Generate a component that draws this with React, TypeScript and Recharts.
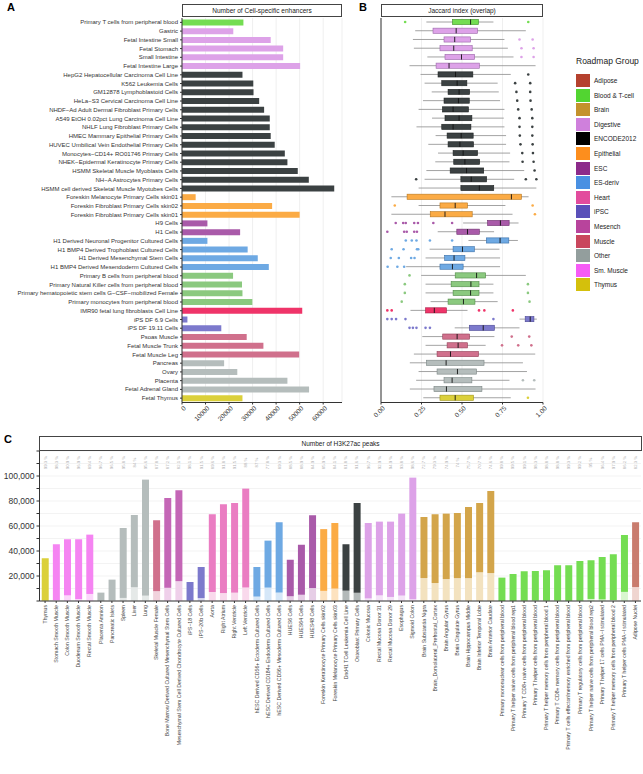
import React from 'react';
import { BarChart, Bar, ComposedChart, XAxis, YAxis, CartesianGrid, Cell } from 'recharts';

const FONT = "'Liberation Sans', Arial, Helvetica, sans-serif";

// ---------- panels A + B : cell lines ----------
const cellLines = [
  'Primary T cells from peripheral blood', 'Gastric', 'Fetal Intestine Small', 'Fetal Stomach', 'Small Intestine',
  'Fetal Intestine Large', 'HepG2 Hepatocellular Carcinoma Cell Line', 'K562 Leukemia Cells', 'GM12878 Lymphoblastoid Cells',
  'HeLa−S3 Cervical Carcinoma Cell Line', 'NHDF−Ad Adult Dermal Fibroblast Primary Cells', 'A549 EtOH 0.02pct Lung Carcinoma Cell Line',
  'NHLF Lung Fibroblast Primary Cells', 'HMEC Mammary Epithelial Primary Cells', 'HUVEC Umbilical Vein Endothelial Primary Cells',
  'Monocytes−CD14+ RO01746 Primary Cells', 'NHEK−Epidermal Keratinocyte Primary Cells', 'HSMM Skeletal Muscle Myoblasts Cells',
  'NH−A Astrocytes Primary Cells', 'HSMM cell derived Skeletal Muscle Myotubes Cells', 'Foreskin Melanocyte Primary Cells skin01',
  'Foreskin Fibroblast Primary Cells skin02', 'Foreskin Fibroblast Primary Cells skin01', 'H9 Cells', 'H1 Cells',
  'H1 Derived Neuronal Progenitor Cultured Cells', 'H1 BMP4 Derived Trophoblast Cultured Cells', 'H1 Derived Mesenchymal Stem Cells',
  'H1 BMP4 Derived Mesendoderm Cultured Cells', 'Primary B cells from peripheral blood', 'Primary Natural Killer cells from peripheral blood',
  'Primary hematopoietic stem cells G−CSF−mobilized Female', 'Primary monocytes from peripheral blood', 'IMR90 fetal lung fibroblasts Cell Line',
  'iPS DF 6.9 Cells', 'iPS DF 19.11 Cells', 'Psoas Muscle', 'Fetal Muscle Trunk', 'Fetal Muscle Leg', 'Pancreas', 'Ovary', 'Placenta',
  'Fetal Adrenal Gland', 'Fetal Thymus',
];
const cellGroups = [
  'bld', 'dig', 'dig', 'dig', 'dig', 'dig',
  'enc', 'enc', 'enc', 'enc', 'enc', 'enc', 'enc', 'enc', 'enc', 'enc', 'enc', 'enc', 'enc', 'enc',
  'epi', 'epi', 'epi', 'esc', 'esc', 'esd', 'esd', 'esd', 'esd',
  'hsc', 'hsc', 'hsc', 'hsc', 'imr', 'ips', 'ips', 'mus', 'mus', 'mus', 'oth', 'oth', 'oth', 'oth', 'thy',
];
const enhancerCounts = [
  26100, 21800, 37700, 43000, 43000, 50200, 25700, 30300, 30400, 32800, 34900, 37300, 37300, 37700, 39400,
  43700, 44800, 49200, 53900, 64700, 5800, 38300, 50000, 10800, 24700, 10800, 27900, 32200, 36900, 21700,
  25500, 25700, 29900, 51100, 2300, 16700, 27500, 34600, 49800, 17900, 23500, 44800, 54000, 25700,
];
const jaccardLow = [
  0.28, 0.211, 0.197, 0.203, 0.286, 0.176, 0.244, 0.269, 0.313, 0.259, 0.232, 0.315, 0.219, 0.337, 0.292,
  0.352, 0.335, 0.28, 0.269, 0.232, 0.064, 0.232, 0.064, 0.507, 0.35, 0.54, 0.3, 0.275, 0.155, 0.248,
  0.275, 0.275, 0.306, 0.182, 0.855, 0.455, 0.255, 0.275, 0.203, 0.178, 0.232, 0.217, 0.178, 0.261,
];
const jaccardQ1 = [
  0.441, 0.321, 0.389, 0.364, 0.395, 0.34, 0.352, 0.375, 0.414, 0.389, 0.379, 0.395, 0.375, 0.408, 0.414,
  0.445, 0.449, 0.427, 0.493, 0.493, 0.161, 0.364, 0.304, 0.658, 0.468, 0.65, 0.445, 0.393, 0.364, 0.458,
  0.433, 0.445, 0.414, 0.275, 0.89, 0.545, 0.381, 0.408, 0.346, 0.28, 0.346, 0.389, 0.327, 0.364,
];
const jaccardMedian = [
  0.553, 0.464, 0.455, 0.449, 0.497, 0.42, 0.46, 0.47, 0.482, 0.478, 0.445, 0.482, 0.445, 0.495, 0.487,
  0.507, 0.518, 0.528, 0.557, 0.607, 0.805, 0.458, 0.395, 0.737, 0.534, 0.735, 0.503, 0.451, 0.441, 0.59,
  0.555, 0.553, 0.509, 0.329, 0.921, 0.631, 0.47, 0.476, 0.429, 0.402, 0.472, 0.439, 0.404, 0.458,
];
const jaccardQ3 = [
  0.602, 0.596, 0.553, 0.563, 0.578, 0.607, 0.567, 0.53, 0.547, 0.545, 0.54, 0.561, 0.555, 0.569, 0.571,
  0.596, 0.609, 0.634, 0.652, 0.696, 0.867, 0.534, 0.563, 0.791, 0.607, 0.789, 0.576, 0.518, 0.507, 0.646,
  0.605, 0.605, 0.58, 0.404, 0.944, 0.7, 0.547, 0.534, 0.602, 0.636, 0.59, 0.561, 0.623, 0.571,
];
const jaccardHigh = [
  0.694, 0.894, 0.762, 0.783, 0.818, 0.954, 0.801, 0.72, 0.727, 0.735, 0.762, 0.758, 0.762, 0.772, 0.772,
  0.797, 0.793, 0.884, 0.822, 0.959, 0.911, 0.768, 0.812, 0.849, 0.698, 0.845, 0.731, 0.735, 0.735, 0.894,
  0.694, 0.694, 0.72, 0.534, 0.962, 0.855, 0.7, 0.646, 0.952, 0.876, 0.901, 0.793, 0.954, 0.801,
];
const jaccardOutliers = [
  [0.149, 0.909], [], [0.855, 0.936], [0.867, 0.942], [0.867, 0.942], [], [0.909], [0.828, 0.921], [0.836, 0.921], [0.841, 0.923],
  [0.847, 0.93], [0.855, 0.934], [0.855, 0.934], [0.857, 0.934], [0.861, 0.936], [0.872, 0.938], [0.874, 0.942], [0.948],
  [0.217, 0.894, 0.959], [], [], [0.085, 0.936], [0.95], [0.091, 0.137, 0.153, 0.205, 0.228, 0.323, 0.439],
  [0.039, 0.143, 0.159, 0.205, 0.222], [0.153, 0.19, 0.219, 0.302, 0.439], [0.066, 0.139, 0.222, 0.23], [0.06, 0.11, 0.186, 0.207],
  [0.041, 0.101, 0.143], [0.176], [0.147, 0.907], [0.147, 0.907], [0.128, 0.917], [0.039, 0.066, 0.605, 0.638, 0.814],
  [0.039, 0.066, 0.093, 0.151, 0.694], [0.176, 0.197, 0.219, 0.275, 0.302], [0.807, 0.915], [0.747, 0.847, 0.928],
  [], [], [], [0.876, 0.946], [], [0.907],
];

// ---------- panel C : tissues ----------
const tissues = [
  'Thymus', 'Stomach Smooth Muscle', 'Colon Smooth Muscle', 'Duodenum Smooth Muscle', 'Rectal Smooth Muscle', 'Placenta Amnion',
  'Pancreatic Islets', 'Spleen', 'Liver', 'Lung', 'Skeletal Muscle Female', 'Bone Marrow Derived Cultured Mesenchymal Stem Cells',
  'Mesenchymal Stem Cell Derived Chondrocyte Cultured Cells', 'iPS−18 Cells', 'iPS−20b Cells', 'Aorta', 'Right Atrium',
  'Right Ventricle', 'Left Ventricle', 'hESC Derived CD56+ Ectoderm Cultured Cells', 'hESC Derived CD184+ Endoderm Cultured Cells',
  'hESC Derived CD56+ Mesoderm Cultured Cells', 'HUES6 Cells', 'HUES64 Cells', 'HUES48 Cells',
  'Foreskin Keratinocyte Primary Cells skin02', 'Foreskin Melanocyte Primary Cells skin03', 'Dnd41 TCell Leukemia Cell Line',
  'Osteoblast Primary Cells', 'Colonic Mucosa', 'Rectal Mucosa Donor 31', 'Rectal Mucosa Donor 29', 'Esophagus', 'Sigmoid Colon',
  'Brain Substantia Nigra', 'Brain_Dorsolateral_Prefrontal_Cortex', 'Brain Angular Gyrus', 'Brain Cingulate Gyrus',
  'Brain Hippocampus Middle', 'Brain Inferior Temporal Lobe', 'Brain Anterior Caudate',
  'Primary mononuclear cells from peripheral blood', 'Primary T helper naive cells from peripheral blood rep1',
  'Primary T CD8+ naive cells from peripheral blood', 'Primary T helper cells from peripheral blood',
  'Primary T helper memory cells from peripheral blood 1', 'Primary T CD8+ memory cells from peripheral blood',
  'Primary T cells effector/memory enriched from peripheral blood', 'Primary T regulatory cells from peripheral blood',
  'Primary T helper naive cells from peripheral blood rep2', 'Primary T helper 17 cells PMA−I stimulated',
  'Primary T helper memory cells from peripheral blood 2', 'Primary T helper cells PMA−I stimulated', 'Adipose Nuclei',
];
const tissueGroups = [
  'thy', 'sm', 'sm', 'sm', 'sm', 'oth', 'oth', 'oth', 'oth', 'oth', 'mus', 'mes', 'mes', 'ips', 'ips',
  'hrt', 'hrt', 'hrt', 'hrt', 'esd', 'esd', 'esd', 'esc', 'esc', 'esc', 'epi', 'epi', 'enc', 'enc',
  'dig', 'dig', 'dig', 'dig', 'dig', 'brn', 'brn', 'brn', 'brn', 'brn', 'brn', 'brn',
  'bld', 'bld', 'bld', 'bld', 'bld', 'bld', 'bld', 'bld', 'bld', 'bld', 'bld', 'bld', 'adi',
];
const peakCounts = [
  34200, 45400, 49400, 49400, 53100, 6700, 17100, 58400, 68800, 97100, 64600, 82400, 88600, 15200, 27200,
  69400, 77400, 78400, 89900, 27200, 48300, 63000, 33000, 45000, 68600, 57500, 62400, 45400, 78400,
  62400, 63500, 63500, 69900, 98700, 67200, 69400, 69900, 70400, 75200, 78400, 88000,
  18700, 21600, 23800, 24000, 24600, 28600, 28600, 32000, 32600, 35200, 37400, 52800, 63000,
];
const peakPct = [
  99.3, 98.3, 90.9, 96.9, 89.4, 96.7, 96.5, 95.8, 84, 95.6, 87.8, 87.2, 82.1, 98.1, 91.5,
  89.6, 91.8, 91.5, 88, 87, 77.8, 89.3, 88.5, 88.9, 84.9, 85.9, 84.1, 81.8, 91.6,
  96.7, 92.9, 94.9, 93.8, 98.6, 72.7, 79.3, 74.9, 74, 75.7, 70.7, 74.6,
  99.8, 99.5, 99.1, 98.3, 98.8, 98.8, 99.3, 99.2, 95, 96.4, 97.9, 86.2, 82.3,
];

// ---------- legend ----------
const legendNames = ['Adipose', 'Blood & T-cell', 'Brain', 'Digestive', 'ENCODE2012', 'Epithelial', 'ESC', 'ES-deriv',
  'Heart', 'iPSC', 'Mesench', 'Muscle', 'Other', 'Sm. Muscle', 'Thymus'];
const legendColors = ['#b5412e', '#52d531', '#c4922c', '#cf80dc', '#000000', '#fd8e1d', '#8c2a8a', '#4990e2',
  '#e24c9d', '#5a50b9', '#b8449c', '#c9475d', '#939e9d', '#f65cf6', '#d4c00c'];

const GROUPS: Record<string, { fill: string; line: string; light: string }> = {
  bld: { fill: '#74dd52', line: '#3f8f2a', light: '#d9f6cf' },
  dig: { fill: '#dda2e8', line: '#9a66a8', light: '#f5e3f8' },
  enc: { fill: '#3b4142', line: '#1e2222', light: '#b3b9b9' },
  epi: { fill: '#fbab45', line: '#b8761c', light: '#fde2bf' },
  esc: { fill: '#a95aa9', line: '#6e2f6e', light: '#e6cde6' },
  esd: { fill: '#6ea9e3', line: '#3a6fa8', light: '#d5e7f8' },
  hsc: { fill: '#8bc97f', line: '#4f8a45', light: '#dcefd8' },
  imr: { fill: '#ef3469', line: '#a81c44', light: '#fbd0dc' },
  ips: { fill: '#7c79cc', line: '#4a4794', light: '#d9d8f1' },
  mus: { fill: '#d0708c', line: '#944058', light: '#f1d2dc' },
  oth: { fill: '#b5bdbc', line: '#7b8584', light: '#e5e9e8' },
  thy: { fill: '#dbd03a', line: '#a09618', light: '#f6f2c8' },
  sm: { fill: '#f584f2', line: '#b04cae', light: '#fcd8fb' },
  mes: { fill: '#c466b6', line: '#8a3a80', light: '#efd0ea' },
  hrt: { fill: '#ea7dc2', line: '#a84a86', light: '#f9d9ec' },
  brn: { fill: '#d3a54a', line: '#93702a', light: '#f3e2bf' },
  adi: { fill: '#c97c6e', line: '#8c4a3e', light: '#efd5d0' },
};

const rowsA = cellLines.map((name, i) => ({ name, value: enhancerCounts[i], group: cellGroups[i] }));
const rowsB = cellLines.map((name, i) => ({
  name, group: cellGroups[i], lo: jaccardLow[i], q1: jaccardQ1[i], med: jaccardMedian[i],
  q3: jaccardQ3[i], hi: jaccardHigh[i], out: jaccardOutliers[i],
}));
const rowsC = tissues.map((name, i) => ({
  name, group: tissueGroups[i],
  shared: peakCounts[i] * (1 - peakPct[i] / 100),
  specific: peakCounts[i] * (peakPct[i] / 100),
}));

// plot height of panel C, used to put the % row at the top of the panel
const C_PLOT_H = 150;

const CellTick = ({ x, y, payload }: any) => (
  <text x={x} y={y} dy="0.35em" textAnchor="end" fontSize={6} fill="#333">{payload.value}</text>
);

const RotTick = ({ x, y, payload, digits }: any) => (
  <g transform={`translate(${x + 1},${y})`}>
    <text transform="rotate(-45)" textAnchor="end" dy="0.71em" fontSize={6.5} fill="#333">
      {digits ? Number(payload.value).toFixed(digits) : payload.value}
    </text>
  </g>
);

// tissue name under the bar + share of specific peaks at the top of the panel
const TissueTick = ({ x, y, payload }: any) => {
  const i = tissues.indexOf(payload.value);
  const top = y - 4 - C_PLOT_H;
  return (
    <g>
      <text transform={`translate(${x},${y}) rotate(-90)`} textAnchor="end" dy="0.35em" fontSize={5.2} fill="#444">
        {payload.value}
      </text>
      <text transform={`translate(${x},${top + 11.5}) rotate(-90)`} textAnchor="middle" dy="0.35em" fontSize={4.3} fill="#b0b0b0">
        {`${peakPct[i]} %`}
      </text>
    </g>
  );
};

const PeakTick = ({ x, y, payload }: any) => {
  const v = payload.value;
  const show = v % 20000 === 0 && v > 0 && v <= 100000;
  return show ? (
    <text x={x} y={y} dy="0.35em" textAnchor="end" fontSize={8.5} fill="#333">{v.toLocaleString('en-US')}</text>
  ) : <g />;
};

// box + whiskers + outliers, positioned from the range bar [lo, hi]
const BoxShape = (props: any) => {
  const { x, y, width, height, payload } = props;
  const g = GROUPS[payload.group];
  const px = (v: number) => x + ((v - payload.lo) / (payload.hi - payload.lo)) * width;
  const cy = y + height / 2;
  const bh = 5.2;
  return (
    <g>
      <line x1={x} x2={x + width} y1={cy} y2={cy} stroke="#8c8c8c" strokeWidth={0.8} />
      <rect x={px(payload.q1)} y={cy - bh / 2} width={px(payload.q3) - px(payload.q1)} height={bh}
        fill={g.fill} stroke={g.line} strokeWidth={0.6} />
      <line x1={px(payload.med)} x2={px(payload.med)} y1={cy - bh / 2} y2={cy + bh / 2} stroke="#111" strokeWidth={0.9} />
      {payload.out.map((o: number, k: number) => (
        <circle key={k} cx={px(o)} cy={cy} r={1.3} fill={g.fill} />
      ))}
    </g>
  );
};

const Strip = ({ left, top, width, height, text }: any) => (
  <div style={{
    position: 'absolute', left, top, width, height, boxSizing: 'border-box', border: '1px solid #444',
    background: '#fff', fontSize: 6.5, color: '#222', display: 'flex', alignItems: 'center', justifyContent: 'center',
  }}>{text}</div>
);

const Letter = ({ left, top, text }: any) => (
  <div style={{ position: 'absolute', left, top, fontSize: 11, fontWeight: 'bold', lineHeight: '11px' }}>{text}</div>
);

export default function App() {
  return (
    <div style={{ position: 'absolute', left: 0, top: 0, width: 643, height: 774, background: '#fff', fontFamily: FONT, overflow: 'hidden' }}>
      {/* A */}
      <div style={{ position: 'absolute', left: 0, top: 0 }}>
        <BarChart width={343} height={430} data={rowsA} layout="vertical" barCategoryGap="16%"
          margin={{ top: 18, right: 1, bottom: 0, left: 0 }}>
          <CartesianGrid horizontal={false} stroke="#e4e4e4" strokeWidth={0.6} />
          <XAxis type="number" domain={[0, 68000]} ticks={[0, 10000, 20000, 30000, 40000, 50000, 60000]} interval={0}
            height={27.5} tick={<RotTick />} tickSize={2} tickMargin={1}
            axisLine={{ stroke: '#333' }} tickLine={{ stroke: '#333' }} />
          <YAxis type="category" dataKey="name" width={182} interval={0} tick={<CellTick />} tickSize={2} tickMargin={2}
            axisLine={{ stroke: '#333' }} tickLine={{ stroke: '#333' }} />
          <Bar dataKey="value" isAnimationActive={false}>
            {rowsA.map((r, i) => <Cell key={i} fill={GROUPS[r.group].fill} />)}
          </Bar>
        </BarChart>
      </div>
      <Strip left={182} top={4} width={160} height={13} text="Number of Cell-specific enhancers" />
      <Letter left={7} top={2} text="A" />

      {/* B */}
      <div style={{ position: 'absolute', left: 360, top: 0 }}>
        <ComposedChart width={197} height={430} data={rowsB} layout="vertical"
          margin={{ top: 18, right: 14, bottom: 0, left: 0 }}>
          <CartesianGrid horizontal={false} stroke="#e4e4e4" strokeWidth={0.6} />
          <XAxis type="number" domain={[0, 1]} ticks={[0, 0.25, 0.5, 0.75, 1]} interval={0} height={27.5}
            tick={<RotTick digits={2} />} tickSize={2} tickMargin={1}
            axisLine={{ stroke: '#333' }} tickLine={{ stroke: '#333' }} />
          <YAxis type="category" dataKey="name" width={21} interval={0} tick={false} tickSize={2}
            axisLine={{ stroke: '#333' }} tickLine={{ stroke: '#333' }} />
          <Bar dataKey={(d: any) => [d.lo, d.hi]} shape={<BoxShape />} barSize={6} isAnimationActive={false} />
        </ComposedChart>
      </div>
      <Strip left={381} top={4} width={162} height={13} text="Jaccard index (overlap)" />
      <Letter left={359} top={2} text="B" />

      {/* legend */}
      <div style={{ position: 'absolute', left: 576, top: 56, fontSize: 8.5, color: '#222' }}>Roadmap Group</div>
      {legendNames.map((n, i) => (
        <div key={n} style={{ position: 'absolute', left: 576, top: 74 + i * 14.6, height: 13, display: 'flex', alignItems: 'center' }}>
          <div style={{ width: 14, height: 13, background: legendColors[i] }} />
          <span style={{ marginLeft: 4, fontSize: 6.5, color: '#222' }}>{n}</span>
        </div>
      ))}

      {/* C */}
      <div style={{ position: 'absolute', left: 0, top: 440 }}>
        <BarChart width={643} height={334} data={rowsC} barCategoryGap="20%"
          margin={{ top: 11, right: 2, bottom: 0, left: 0 }}>
          <CartesianGrid vertical={false} stroke="#ebebeb" strokeWidth={0.6} />
          <XAxis dataKey="name" interval={0} height={173} tick={<TissueTick />} tickSize={2} tickMargin={2}
            axisLine={{ stroke: '#333' }} tickLine={{ stroke: '#333' }} />
          <YAxis type="number" domain={[0, 120000]} width={39.5} interval={0}
            ticks={[0, 10000, 20000, 30000, 40000, 50000, 60000, 70000, 80000, 90000, 100000, 110000, 120000]}
            tick={<PeakTick />} tickSize={3} tickMargin={2} axisLine={{ stroke: '#333' }} tickLine={{ stroke: '#333' }} />
          <Bar dataKey="shared" stackId="p" isAnimationActive={false}>
            {rowsC.map((r, i) => <Cell key={i} fill={GROUPS[r.group].light} />)}
          </Bar>
          <Bar dataKey="specific" stackId="p" isAnimationActive={false}>
            {rowsC.map((r, i) => <Cell key={i} fill={GROUPS[r.group].fill} />)}
          </Bar>
        </BarChart>
      </div>
      <Strip left={39} top={436} width={603} height={15} text="Number of H3K27ac peaks" />
      <Letter left={4} top={434} text="C" />
    </div>
  );
}
